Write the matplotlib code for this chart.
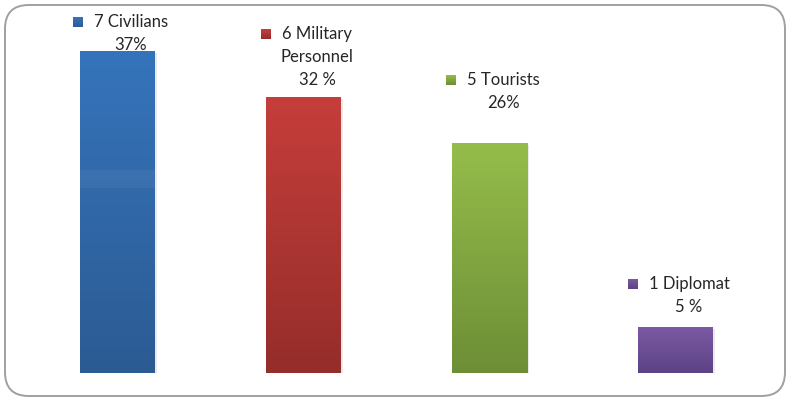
import numpy as np
import matplotlib
matplotlib.use("Agg")
import matplotlib.pyplot as plt
from matplotlib.patches import FancyBboxPatch, Rectangle
from matplotlib import patheffects as pe
from matplotlib.colors import LinearSegmentedColormap

# data: number of victims per group
groups = ["Civilians", "Military\nPersonnel", "Tourists", "Diplomat"]
counts = [7, 6, 5, 1]
pct_labels = ["37%", "32 %", "26%", "5 %"]
top_colors = ["#3574bb", "#c53e3b", "#95bd4b", "#7b59a3"]
bottom_colors = ["#2c5b93", "#952d2a", "#6d8e36", "#5c4385"]
# height (data units) of the first label line above each bar
label_y = [7.63, 7.37, 6.37, 1.94]

plt.rcParams["font.family"] = ["Lato", "DejaVu Sans"]

fig = plt.figure(figsize=(7.9, 3.99), dpi=100)
ax = fig.add_axes([24.5 / 790, 26 / 399, 744 / 790, 368 / 399])
ax.set_xlim(-0.5, 3.5)
ax.set_ylim(0, 8)
ax.axis("off")

# rounded outer frame
frame = FancyBboxPatch((5 / 790, 3 / 399), 780 / 790, 391 / 399,
                       boxstyle="round,pad=0,rounding_size=0.03",
                       transform=fig.transFigure, fill=False,
                       edgecolor="#a0a0a0", linewidth=1.4, mutation_aspect=2)
fig.patches.append(frame)

x = np.arange(len(counts))
width = 75 / 186
bars = ax.bar(x, counts, width=width, color=bottom_colors, zorder=2,
              path_effects=[pe.SimplePatchShadow(offset=(1.5, -1.5), shadow_rgbFace="#999999", alpha=0.2),
                            pe.Normal()])

# vertical gradient inside each bar
grad = np.linspace(1, 0, 256).reshape(-1, 1)
for bar, c0, c1 in zip(bars, top_colors, bottom_colors):
    cmap = LinearSegmentedColormap.from_list("g", [c1, c0])
    bx, bw, bh = bar.get_x(), bar.get_width(), bar.get_height()
    im = ax.imshow(grad, cmap=cmap, vmin=0, vmax=1, aspect="auto",
                   extent=(bx, bx + bw, 0, bh), zorder=3)
    im.set_clip_path(bar)

# faint lighter band across the first bar
ax.add_patch(Rectangle((bars[0].get_x(), 4.02), width, 0.39, facecolor="white",
                       alpha=0.05, edgecolor="none", zorder=4))
ax.set_xlim(-0.5, 3.5)
ax.set_ylim(0, 8)

# labels: count + group name, then percentage
text_off = 13.5 * 72 / 100
line_gap = 23 * 72 / 100
first_lines = []
for i, (g, n, p) in enumerate(zip(groups, counts, pct_labels)):
    lines = (f"{n} {g}").split("\n") + [p]
    for k, line in enumerate(lines):
        t = ax.annotate(line, (x[i], label_y[i]), xytext=(text_off, -k * line_gap),
                        textcoords="offset points", ha="center", va="center",
                        fontsize=12, color="#262626", zorder=5)
        if k == 0:
            first_lines.append(t)

# small colour squares to the left of the first label line
fig.canvas.draw()
renderer = fig.canvas.get_renderer()
for t, c0, c1 in zip(first_lines, top_colors, bottom_colors):
    bb = t.get_window_extent(renderer)
    cy = (bb.y0 + bb.y1) / 2
    sq = 10
    x0 = bb.x0 - 11 - sq
    y0 = cy - sq / 2
    cmap = LinearSegmentedColormap.from_list("g", [c1, c0])
    ax_sq = fig.add_axes([x0 / 790, y0 / 399, sq / 790, sq / 399])
    ax_sq.imshow(grad, cmap=cmap, vmin=0, vmax=1, aspect="auto")
    ax_sq.axis("off")

fig.savefig("out.png", dpi=100)
